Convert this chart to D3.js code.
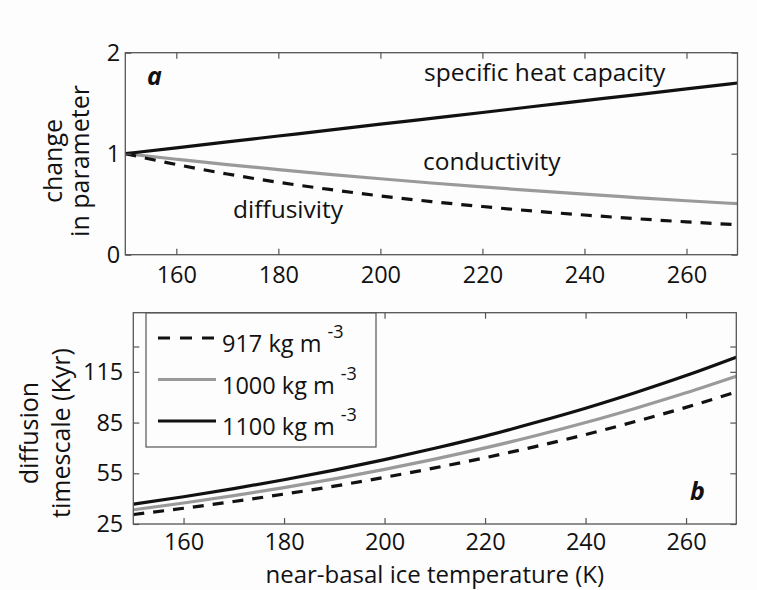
<!DOCTYPE html>
<html>
<head>
<meta charset="utf-8">
<script src="https://cdn.jsdelivr.net/npm/d3@7"></script>
<style>
  html, body { margin: 0; padding: 0; background: #fdfdfd; }
  svg { display: block; }
  text { font-family: "Open Sans", "DejaVu Sans", sans-serif; fill: #111; }
</style>
</head>
<body>
<svg id="chart" width="757" height="590"></svg>
<script>
// Near-basal ice temperature (K)
const temperature = [150, 160, 170, 180, 190, 200, 210, 220, 230, 240, 250, 260, 270];

// Panel a: relative change of thermal parameters (1 at 150 K)
const heatCapacity = [1.000, 1.058, 1.117, 1.175, 1.233, 1.292, 1.350, 1.408, 1.467, 1.525, 1.583, 1.642, 1.700];
const conductivity = [1.000, 0.945, 0.892, 0.843, 0.796, 0.752, 0.710, 0.671, 0.634, 0.599, 0.566, 0.534, 0.505];
const diffusivity  = [1.000, 0.893, 0.799, 0.717, 0.646, 0.582, 0.526, 0.477, 0.432, 0.393, 0.357, 0.325, 0.297];

// Panel b: diffusion timescale (Kyr) for three ice densities
const tau917  = [30.6, 34.3, 38.3, 42.7, 47.4, 52.6, 58.2, 64.2, 70.8, 77.9, 85.7, 94.0, 103.1];
const tau1000 = [33.4, 37.4, 41.8, 46.5, 51.7, 57.3, 63.4, 70.0, 77.2, 85.0, 93.5, 102.6, 112.4];
const tau1100 = [36.7, 41.1, 45.9, 51.2, 56.9, 63.1, 69.8, 77.0, 85.0, 93.5, 102.8, 112.8, 123.7];

// Axis ticks
const xTicks = [160, 180, 200, 220, 240, 260];
const yTicksA = [0, 1, 2];
const yTicksB = [25, 55, 85, 115, 130];
const yTickLabelsB = ["25", "55", "85", "115", ""];

const legendLabels = ["917 kg m", "1000 kg m", "1100 kg m"];

const svg = d3.select("#chart");
const axisColor = "#555";
const grey = "#9a9a9a";
const labelSize = 24.5;

function framePanel(g, x, y, xt, yt, opts) {
  const [x0, x1] = x.range();
  const [y0, y1] = y.range();
  // inward ticks on all four sides
  g.append("g").attr("transform", `translate(0,${y0})`)
    .call(d3.axisBottom(x).tickValues(xt).tickSize(-6).tickSizeOuter(0).tickPadding(opts.xpad).tickFormat(d3.format("d")));
  g.append("g").attr("transform", `translate(0,${y1})`)
    .call(d3.axisTop(x).tickValues(xt).tickSize(-6).tickSizeOuter(0).tickFormat(""));
  g.append("g").attr("transform", `translate(${x0},0)`)
    .call(d3.axisLeft(y).tickValues(yt).tickSize(-6).tickSizeOuter(0).tickPadding(opts.ypad).tickFormat(opts.fmt));
  g.append("g").attr("transform", `translate(${x1},0)`)
    .call(d3.axisRight(y).tickValues(yt).tickSize(-6).tickSizeOuter(0).tickFormat(""));
  g.selectAll(".domain").remove();
  g.selectAll(".tick line").attr("stroke", axisColor).attr("stroke-width", 1.2);
  g.selectAll(".tick text").attr("font-size", 23.5).attr("font-family", '"Open Sans", sans-serif').attr("fill", "#111");
  g.append("rect").attr("x", x0).attr("y", y1).attr("width", x1 - x0).attr("height", y0 - y1)
    .attr("fill", "none").attr("stroke", axisColor).attr("stroke-width", 1.3);
}

// ---------- Panel a ----------
const xA = d3.scaleLinear([150, 270], [125.3, 737.5]);
const yA = d3.scaleLinear([0, 2], [254.7, 52.7]);
const gA = svg.append("g");

const lineA = vals => d3.line().x((d, i) => xA(temperature[i])).y(d => yA(d)).curve(d3.curveMonotoneX)(vals);

gA.append("path").attr("d", lineA(conductivity)).attr("fill", "none").attr("stroke", grey).attr("stroke-width", 3.2);
gA.append("path").attr("d", lineA(diffusivity)).attr("fill", "none").attr("stroke", "#111").attr("stroke-width", 3.2).attr("stroke-dasharray", "11,9");
gA.append("path").attr("d", lineA(heatCapacity)).attr("fill", "none").attr("stroke", "#111").attr("stroke-width", 3.2);

framePanel(gA, xA, yA, xTicks, yTicksA, { xpad: 12, ypad: 5, fmt: d3.format("d") });

gA.append("text").attr("x", 147).attr("y", 85).attr("font-size", 25).attr("font-weight", "bold").attr("font-style", "italic").text("a");
gA.append("text").attr("x", 424).attr("y", 81).attr("font-size", labelSize).text("specific heat capacity");
gA.append("text").attr("x", 423).attr("y", 170).attr("font-size", labelSize).text("conductivity");
gA.append("text").attr("x", 233).attr("y", 218).attr("font-size", labelSize).text("diffusivity");

gA.append("text").attr("transform", "translate(62,161) rotate(-90)").attr("text-anchor", "middle").attr("font-size", 25).text("change");
gA.append("text").attr("transform", "translate(89,161) rotate(-90)").attr("text-anchor", "middle").attr("font-size", 25).text("in parameter");

// ---------- Panel b ----------
const xB = d3.scaleLinear([150, 270], [133.3, 736.3]);
const yB = d3.scaleLinear([25, 150], [524, 312.7]);
const gB = svg.append("g");

const lineB = vals => d3.line().x((d, i) => xB(temperature[i])).y(d => yB(d)).curve(d3.curveMonotoneX)(vals);

const seriesB = [
  { vals: tau917, color: "#111", dash: "11,9" },
  { vals: tau1000, color: grey, dash: null },
  { vals: tau1100, color: "#111", dash: null }
];
seriesB.forEach(s => {
  gB.append("path").attr("d", lineB(s.vals)).attr("fill", "none").attr("stroke", s.color)
    .attr("stroke-width", 3.2).attr("stroke-dasharray", s.dash);
});

framePanel(gB, xB, yB, xTicks, yTicksB, { xpad: 9, ypad: 10, fmt: (d, i) => yTickLabelsB[i] });

gB.append("text").attr("x", 690).attr("y", 500).attr("font-size", 25).attr("font-weight", "bold").attr("font-style", "italic").text("b");

// legend
const lg = gB.append("g");
lg.append("rect").attr("x", 146).attr("y", 313).attr("width", 230).attr("height", 134)
  .attr("fill", "#fdfdfd").attr("stroke", axisColor).attr("stroke-width", 1.2);
seriesB.forEach((s, i) => {
  const yy = 338 + i * 41.5;
  lg.append("line").attr("x1", 158).attr("x2", 216).attr("y1", yy).attr("y2", yy)
    .attr("stroke", s.color).attr("stroke-width", 3.2).attr("stroke-dasharray", s.dash ? "12,10" : null);
  const t = lg.append("text").attr("x", 222).attr("y", yy + 14).attr("font-size", 23.5).text(legendLabels[i]);
  const w = t.node().getComputedTextLength();
  lg.append("text").attr("x", 222 + w + 6).attr("y", yy).attr("font-size", 18).text("-3");
});

gB.append("text").attr("transform", "translate(38,433) rotate(-90)").attr("text-anchor", "middle").attr("font-size", 25).text("diffusion");
gB.append("text").attr("transform", "translate(70,433) rotate(-90)").attr("text-anchor", "middle").attr("font-size", 25).text("timescale (Kyr)");

svg.append("text").attr("x", (133.3 + 736.3) / 2).attr("y", 583).attr("text-anchor", "middle").attr("font-size", 24).text("near-basal ice temperature (K)");
</script>
</body>
</html>
